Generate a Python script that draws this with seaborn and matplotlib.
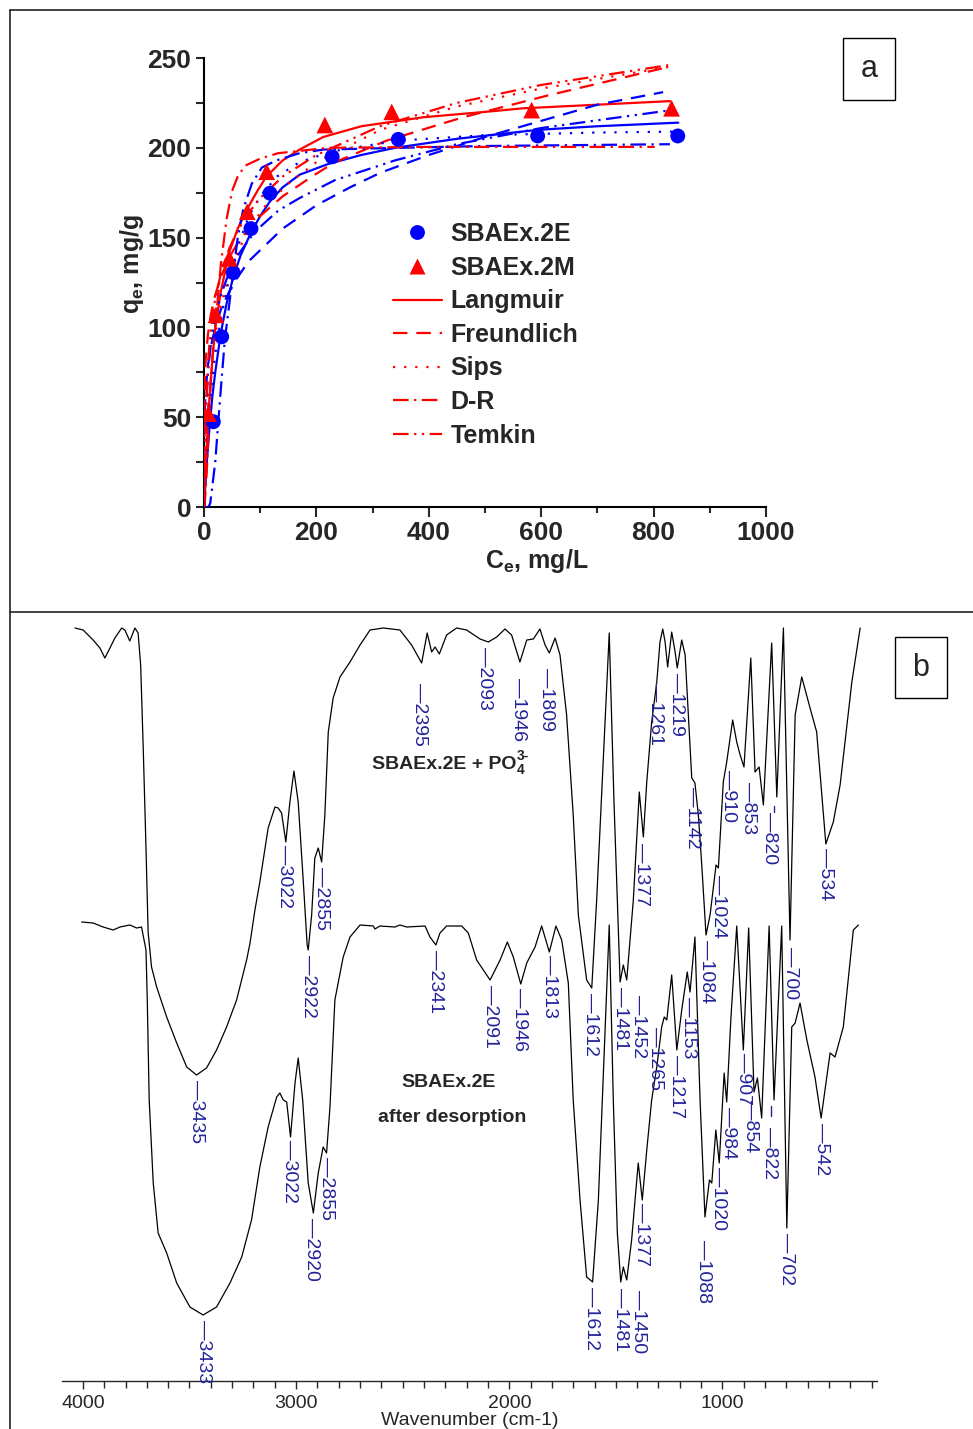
import matplotlib
matplotlib.use("Agg")
import matplotlib.pyplot as plt
import seaborn as sns
from matplotlib.lines import Line2D
from matplotlib.patches import Rectangle
from matplotlib.ticker import MultipleLocator

sns.set_style("ticks")
plt.rcParams['font.family'] = ['Liberation Sans', 'DejaVu Sans']
plt.rcParams['mathtext.fontset'] = 'custom'
plt.rcParams['mathtext.rm'] = 'Liberation Sans'
plt.rcParams['mathtext.bf'] = 'Liberation Sans:bold'
plt.rcParams['mathtext.it'] = 'Liberation Sans:italic'
NARROW = ['Liberation Sans Narrow', 'Liberation Sans', 'DejaVu Sans']

# ---------------- Panel a data ----------------
CE_2E = [16.6, 31.5, 52, 83.6, 117.4, 228, 345.8, 593.7, 843]
QE_2E = [47.5, 94.8, 130.5, 155, 174.7, 195, 204.7, 206.6, 206.6]
CE_2M = [7.7, 21.4, 45, 77, 111.5, 215, 334, 583, 832]
QE_2M = [52, 107, 138.5, 164.4, 186.7, 212.7, 220, 221, 222]

LANG_2E_CE = [0, 5, 10, 15, 20, 30, 40, 52, 65, 84, 100, 117, 140, 170, 221, 280, 340, 450, 594, 700, 844]
LANG_2E_Q = [0, 25, 45, 62, 75, 97, 113, 128, 140, 153, 162, 170, 178, 185, 191, 196, 200, 205, 210, 212, 214]
LANG_2M_CE = [0, 5, 10, 15, 20, 30, 45, 60, 77, 95, 111, 140, 170, 212, 280, 390, 500, 568, 700, 829]
LANG_2M_Q = [0, 35, 62, 82, 100, 120, 142, 155, 166, 176, 184, 193, 199, 206, 212, 217, 220, 222, 224, 226]

FREU_2E_CE = [0, 0.5, 1, 3, 7, 12, 20, 30, 45, 60, 80, 100, 140, 200, 260, 313, 400, 500, 600, 700, 817]
FREU_2E_Q = [0, 43, 51, 65, 79, 89, 100, 110, 120, 128, 137, 143, 155, 168, 178, 186, 196, 206, 215, 224, 231]
FREU_2M_CE = [0, 0.5, 1, 3, 7, 12, 20, 30, 45, 60, 80, 100, 140, 192, 233, 325, 461, 610, 826]
FREU_2M_Q = [0, 57, 66, 82, 96, 107, 118, 128, 139, 147, 155, 162, 173, 184, 192, 204, 217, 229, 245]

SIPS_2E_CE = [0, 5, 10, 15, 20, 30, 45, 60, 80, 100, 130, 170, 228, 345, 500, 700, 835]
SIPS_2E_Q = [0, 30, 55, 72, 85, 105, 128, 145, 162, 173, 184, 192, 198, 204, 207, 208.5, 209]
SIPS_2M_CE = [0, 5, 10, 20, 30, 45, 60, 80, 110, 150, 200, 314, 450, 600, 826]
SIPS_2M_Q = [0, 45, 68, 96, 112, 130, 142, 155, 168, 180, 192, 210, 223, 233, 245]

DR_2E_CE = [0, 8, 11, 15, 20, 28.5, 37, 49, 60, 70, 85, 103, 129, 170, 212, 350, 500, 829]
DR_2E_Q = [0, 0, 2, 12, 25, 60, 93, 123, 150, 166, 180, 189, 193, 197, 199, 200, 201, 202]
DR_2M_CE = [0, 2, 5, 8, 12, 16, 20, 25, 30, 40, 50, 60, 73, 100, 132, 221, 400, 802]
DR_2M_Q = [0, 5, 20, 42, 70, 88, 100, 118, 135, 160, 176, 184, 190, 194, 197, 200, 200.5, 200.5]

TEMK_2E_CE = [0.6, 1, 2, 4, 7, 10, 15, 20, 30, 45, 60, 80, 100, 132, 170, 233, 340, 450, 600, 832]
TEMK_2E_Q = [0, 15, 36, 57, 74, 85, 97, 106, 118, 131, 140, 149, 156, 165, 172, 182, 193, 202, 211, 221]
TEMK_2M_CE = [0.73, 1, 2, 4, 7, 10, 15, 20, 30, 45, 60, 80, 100, 140, 200, 313, 450, 600, 826]
TEMK_2M_Q = [0, 11, 35, 59, 79, 92, 106, 116, 130, 144, 154, 164, 172, 184, 196, 212, 225, 235, 246]

MODEL_NAMES = ['Langmuir', 'Freundlich', 'Sips', 'D-R', 'Temkin']
SERIES_NAMES = ['SBAEx.2E', 'SBAEx.2M']

# ---------------- Panel b data (FTIR spectra) ----------------
WN1 = [4037, 3999, 3952, 3920, 3897, 3873, 3850, 3818, 3803, 3780,
       3756, 3741, 3729, 3717, 3704, 3694, 3678, 3654, 3607, 3560,
       3513, 3467, 3420, 3373, 3326, 3279, 3232, 3216, 3193, 3170,
       3131, 3099, 3084, 3068, 3048, 3029, 3010, 2990, 2966, 2948,
       2943, 2927, 2912, 2896, 2880, 2865, 2849, 2826, 2794, 2747,
       2700, 2653, 2591, 2513, 2458, 2411, 2385, 2364, 2348, 2328,
       2294, 2247, 2200, 2137, 2098, 2059, 2020, 1989, 1950, 1918,
       1887, 1856, 1832, 1812, 1785, 1762, 1731, 1700, 1676, 1637,
       1613, 1590, 1531, 1509, 1480, 1465, 1449, 1418, 1390, 1371,
       1355, 1332, 1308, 1293, 1280, 1269, 1257, 1238, 1222, 1212,
       1191, 1175, 1160, 1144, 1129, 1113, 1097, 1077, 1058, 1030,
       1019, 996, 980, 952, 933, 917, 899, 867, 847, 828,
       808, 769, 745, 714, 683, 659, 628, 589, 558, 515,
       480, 448, 393, 354]
T1 = [75.3, 75.1, 74.1, 73.3, 72.3, 73.3, 74.3, 75.3, 75.1, 74.0,
      75.3, 74.8, 71.6, 63.3, 53.3, 44.9, 41.4, 39.4, 36.4, 33.8,
      31.4, 30.6, 31.3, 33.1, 35.4, 38.1, 42.1, 43.8, 47.1, 49.9,
      55.3, 57.4, 57.3, 56.8, 53.9, 57.9, 61.0, 57.9, 49.9, 43.6,
      43.1, 46.6, 52.3, 53.3, 51.9, 56.6, 64.9, 68.3, 70.4, 71.9,
      73.6, 75.1, 75.3, 75.1, 73.6, 71.8, 74.8, 72.9, 73.4, 72.7,
      74.6, 75.3, 75.1, 74.2, 73.9, 74.4, 75.2, 74.6, 71.9, 74.1,
      74.2, 75.2, 73.6, 72.8, 74.3, 72.6, 66.6, 56.6, 46.6, 40.1,
      39.3, 48.1, 74.8, 58.1, 39.9, 41.6, 40.1, 48.1, 58.9, 54.4,
      59.9, 65.9, 69.9, 73.9, 75.2, 73.9, 71.4, 74.9, 72.9, 71.3,
      74.1, 72.6, 66.6, 60.3, 59.8, 56.6, 51.6, 44.6, 46.6, 51.6,
      51.3, 59.9, 61.9, 66.1, 63.9, 62.6, 61.4, 72.3, 60.9, 61.4,
      57.6, 73.8, 58.4, 75.3, 44.1, 66.6, 70.4, 67.3, 64.9, 53.7,
      55.9, 59.6, 69.9, 75.3]

WN2 = [4006, 3952, 3905, 3858, 3826, 3780, 3748, 3725, 3704, 3698,
       3689, 3670, 3647, 3607, 3560, 3498, 3436, 3373, 3310, 3255,
       3209, 3170, 3131, 3091, 3076, 3060, 3044, 3026, 3005, 2990,
       2969, 2943, 2919, 2896, 2873, 2857, 2841, 2818, 2779, 2747,
       2700, 2638, 2630, 2607, 2536, 2513, 2481, 2395, 2372, 2344,
       2325, 2294, 2223, 2192, 2153, 2090, 2043, 2009, 1981, 1946,
       1918, 1879, 1848, 1812, 1781, 1754, 1723, 1700, 1668, 1637,
       1609, 1582, 1551, 1531, 1512, 1493, 1477, 1465, 1449, 1426,
       1410, 1395, 1376, 1355, 1332, 1308, 1285, 1273, 1261, 1238,
       1214, 1191, 1165, 1152, 1129, 1105, 1082, 1061, 1050, 1031,
       1015, 992, 980, 960, 933, 902, 877, 852, 836, 816,
       781, 758, 722, 698, 675, 659, 636, 604, 566, 537,
       495, 472, 433, 386, 362]
T2 = [45.9, 45.8, 45.4, 45.1, 45.4, 45.6, 45.3, 45.4, 43.1, 38.1,
      28.1, 19.8, 14.8, 12.8, 9.8, 7.4, 6.6, 7.4, 9.8, 12.4,
      16.1, 21.4, 25.4, 28.4, 28.8, 28.1, 27.9, 24.4, 29.8, 32.3,
      28.1, 19.8, 16.8, 20.8, 23.4, 22.8, 27.4, 38.1, 42.4, 44.4,
      45.6, 45.5, 45.2, 45.5, 45.4, 45.6, 45.4, 45.5, 44.4, 43.6,
      44.8, 45.5, 45.5, 44.8, 42.1, 40.1, 42.1, 43.9, 42.4, 39.7,
      41.8, 43.4, 45.5, 42.9, 45.5, 44.1, 39.8, 28.1, 18.1, 10.4,
      9.9, 18.1, 34.8, 45.6, 28.1, 14.8, 9.9, 11.4, 10.1, 14.1,
      18.1, 21.8, 18.1, 23.1, 28.1, 31.4, 35.4, 36.4, 36.1, 40.6,
      33.1, 37.1, 40.9, 38.9, 44.4, 28.1, 16.4, 20.1, 19.8, 25.1,
      21.8, 30.8, 27.9, 36.4, 45.5, 33.1, 45.3, 28.9, 30.3, 26.3,
      45.5, 28.1, 45.5, 15.3, 35.4, 35.8, 37.8, 34.1, 30.4, 26.3,
      32.8, 32.4, 35.4, 45.1, 45.6]

PEAKS1 = ['3435', '3022', '2922', '2855', '2395', '2093', '1946', '1809', '1612', '1481', '1452',
          '1377', '1261', '1219', '1142', '1084', '1024', '910', '853', '820', '700', '534']
PEAKS2 = ['3433', '3022', '2920', '2855', '2341', '2091', '1946', '1813', '1612', '1481', '1450',
          '1377', '1265', '1217', '1153', '1088', '1020', '984', '907', '854', '822', '702', '542']

# label anchor positions (x in plot wavenumber units, y = top of label)
POS1 = [(3466, 30.1), (3052, 53.6), (2943, 42.6), (2880, 51.4), (2419, 69.8), (2114, 73.4),
        (1958, 70.3), (1824, 71.3), (1621, 38.8), (1480, 39.4), (1396, 38.6), (1379, 53.8),
        (1316, 69.9), (1214, 70.8), (1139, 59.4), (1077, 44.1), (1019, 50.6), (972, 61.1),
        (878, 59.9), (777, 56.9), (683, 43.4), (515, 53.3)]
POS2 = [(3436, 6.1), (3029, 24.1), (2927, 16.3), (2857, 22.4), (2348, 43.1), (2090, 39.6),
        (1950, 39.3), (1812, 42.6), (1613, 9.4), (1480, 9.3), (1395, 9.1), (1379, 17.8),
        (1316, 35.4), (1214, 32.6), (1160, 38.4), (1090, 14.1), (1019, 21.4), (972, 27.4),
        (902, 32.8), (870, 28.1), (777, 25.4), (698, 14.8), (537, 25.8)]
# unlabelled marker ticks (x, y top, y bottom)
MARKS = [(760, 57.5, 56.9), (773, 27.5, 26.5)]

W, H = 973, 1429
fig = plt.figure(figsize=(W / 100, H / 100), dpi=100)

def fx(px):
    return px / W

def fy(py):
    return 1 - py / H

# ---------------- Panel a ----------------
axa = fig.add_axes([fx(204), fy(507), fx(766) - fx(204), fy(58) - fy(507)])

BLUE, RED = '#0000ff', '#ff0000'
DASH = {
    'Langmuir': '-',
    'Freundlich': (0, (6.5, 4)),
    'Sips': (0, (1, 4)),
    'D-R': (0, (7, 2.5, 1, 2.5)),
    'Temkin': (0, (7, 2.5, 1, 2.5, 1, 2.5)),
}
curves = [
    (LANG_2E_CE, LANG_2E_Q, BLUE, 'Langmuir'), (LANG_2M_CE, LANG_2M_Q, RED, 'Langmuir'),
    (FREU_2E_CE, FREU_2E_Q, BLUE, 'Freundlich'), (FREU_2M_CE, FREU_2M_Q, RED, 'Freundlich'),
    (SIPS_2E_CE, SIPS_2E_Q, BLUE, 'Sips'), (SIPS_2M_CE, SIPS_2M_Q, RED, 'Sips'),
    (DR_2E_CE, DR_2E_Q, BLUE, 'D-R'), (DR_2M_CE, DR_2M_Q, RED, 'D-R'),
    (TEMK_2E_CE, TEMK_2E_Q, BLUE, 'Temkin'), (TEMK_2M_CE, TEMK_2M_Q, RED, 'Temkin'),
]
for ce, q, col, name in curves:
    sns.lineplot(x=ce, y=q, ax=axa, color=col, lw=1.6, sort=False, estimator=None,
                 linestyle=DASH[name], zorder=3)

sns.scatterplot(x=CE_2E, y=QE_2E, ax=axa, marker='o', s=115, color=BLUE,
                edgecolor='none', linewidth=0, zorder=5)
sns.scatterplot(x=CE_2M, y=QE_2M, ax=axa, marker='^', s=145, color=RED,
                edgecolor='none', linewidth=0, zorder=5)

axa.set_xlim(0, 1000)
axa.set_ylim(0, 250)
axa.set_xticks(range(0, 1001, 200))
axa.set_yticks(range(0, 251, 50))
axa.xaxis.set_minor_locator(MultipleLocator(100))
axa.yaxis.set_minor_locator(MultipleLocator(25))
for s in ['top', 'right']:
    axa.spines[s].set_visible(False)
for s in ['left', 'bottom']:
    axa.spines[s].set_linewidth(1.5)
    axa.spines[s].set_color('black')
axa.tick_params(axis='x', which='major', direction='out', length=7, width=1.5, pad=3, labelsize=19)
axa.tick_params(axis='x', which='minor', direction='out', length=4, width=1.5)
axa.tick_params(axis='y', which='both', direction='out', length=6, width=1.5, pad=3, labelsize=19)
for lbl in axa.get_xticklabels() + axa.get_yticklabels():
    lbl.set_fontweight('bold')
axa.set_xlabel(r'C$_\mathbf{e}$, mg/L', fontsize=18, fontweight='bold')
axa.set_ylabel(r'q$_\mathbf{e}$, mg/g', fontsize=18, fontweight='bold')
axa.xaxis.set_label_coords((537 - 204) / 562, -0.088)
axa.yaxis.set_label_coords(-0.104, (507 - 264) / 449)

handles = [
    Line2D([0], [0], marker='o', color=BLUE, ls='none', ms=10.7, mec='none'),
    Line2D([0], [0], marker='^', color=RED, ls='none', ms=12, mec='none'),
] + [Line2D([0], [0], color=RED, lw=1.6, linestyle=DASH[n]) for n in MODEL_NAMES]
axa.legend(handles=handles, labels=SERIES_NAMES + MODEL_NAMES, loc='upper left',
           bbox_to_anchor=(fx(393), fy(222)), bbox_transform=fig.transFigure,
           frameon=False, prop={'weight': 'bold', 'size': 18}, handlelength=1.95,
           handletextpad=0.35, labelspacing=0.385, borderpad=0, borderaxespad=0)

# ---------------- Panel b ----------------
axb = fig.add_axes([fx(62), fy(1381), fx(877) - fx(62), fy(615) - fy(1381)])
sns.lineplot(x=WN1, y=T1, ax=axb, color='black', lw=0.9, sort=False, estimator=None)
sns.lineplot(x=WN2, y=T2, ax=axb, color='black', lw=0.9, sort=False, estimator=None)
axb.set_xlim(4098, 275)
axb.set_ylim(0, 76.6)
axb.set_yticks([])
for s in ['top', 'right', 'left']:
    axb.spines[s].set_visible(False)
axb.spines['bottom'].set_linewidth(1.0)
axb.set_xticks([4000, 3000, 2000, 1000])
axb.xaxis.set_minor_locator(MultipleLocator(100))
axb.tick_params(axis='x', which='major', direction='out', length=6, width=1.0, pad=4, labelsize=14)
axb.tick_params(axis='x', which='minor', direction='out', length=5, width=1.0)
for lbl in axb.get_xticklabels():
    lbl.set_family(NARROW)
axb.set_xlabel('Wavenumber (cm-1)', fontsize=14, family=NARROW)
axb.xaxis.set_label_coords(0.5, -0.040)

LBLCOL = '#22229a'
for txt, (x, y) in zip(PEAKS1, POS1):
    axb.text(x, y, '\u2014' + txt, rotation=-90, ha='center', va='top', color=LBLCOL,
             fontsize=14, family=NARROW)
for txt, (x, y) in zip(PEAKS2, POS2):
    axb.text(x, y, '\u2014' + txt, rotation=-90, ha='center', va='top', color=LBLCOL,
             fontsize=14, family=NARROW)
for x, y0, y1 in MARKS:
    axb.plot([x, x], [y0, y1], color=LBLCOL, lw=1.0)

# sample annotations
t1 = fig.text(fx(372), fy(769), 'SBAEx.2E + PO', ha='left', va='baseline',
              fontsize=14, fontweight='bold')
fig.canvas.draw()
bb = t1.get_window_extent(renderer=fig.canvas.get_renderer())
xr = bb.x1 / W + 0.0005
fig.text(xr, fy(774), '4', ha='left', va='baseline', fontsize=10, fontweight='bold')
fig.text(xr, fy(760), '3-', ha='left', va='baseline', fontsize=10, fontweight='bold')
fig.text(fx(449), fy(1087), 'SBAEx.2E', ha='center', va='baseline', fontsize=14, fontweight='bold')
fig.text(fx(452), fy(1122), 'after desorption', ha='center', va='baseline', fontsize=14,
         fontweight='bold')

# ---------------- frame and panel tags ----------------
for (x0, y0, x1, y1) in [(10, 10, 10, 1429), (10, 10, 973, 10), (10, 612, 973, 612)]:
    fig.add_artist(Line2D([fx(x0), fx(x1)], [fy(y0), fy(y1)], color='#222222', lw=1.2,
                          transform=fig.transFigure))
for (x0, y0, x1, y1, tag) in [(843, 38, 895, 100, 'a'), (895, 637, 947, 698, 'b')]:
    fig.add_artist(Rectangle((fx(x0), fy(y1)), fx(x1) - fx(x0), fy(y0) - fy(y1), fill=False,
                             edgecolor='black', lw=1.0, transform=fig.transFigure))
    fig.text(fx((x0 + x1) / 2), fy((y0 + y1) / 2), tag, ha='center', va='center', fontsize=22)

fig.savefig('out.png', dpi=100)
